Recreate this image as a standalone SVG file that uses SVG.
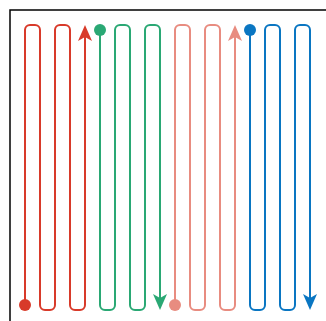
<svg xmlns="http://www.w3.org/2000/svg" width="326" height="321" viewBox="0 0 326 321">
<style>
.p{fill:none;stroke-width:2;stroke-linejoin:round}
</style>
<defs>
<marker id="dr" markerUnits="userSpaceOnUse" viewBox="-7 -7 14 14" markerWidth="14" markerHeight="14" refX="0" refY="0"><circle r="6" fill="#d83a2a"/></marker>
<marker id="ar" markerUnits="userSpaceOnUse" viewBox="0 0 16 14" markerWidth="16" markerHeight="14" refX="8" refY="7" orient="auto"><path d="M0,0 L16,7 L0,14 L4,7 Z" fill="#d83a2a"/></marker>
<marker id="dg" markerUnits="userSpaceOnUse" viewBox="-7 -7 14 14" markerWidth="14" markerHeight="14" refX="0" refY="0"><circle r="6" fill="#2aa874"/></marker>
<marker id="ag" markerUnits="userSpaceOnUse" viewBox="0 0 16 14" markerWidth="16" markerHeight="14" refX="8" refY="7" orient="auto"><path d="M0,0 L16,7 L0,14 L4,7 Z" fill="#2aa874"/></marker>
<marker id="dp" markerUnits="userSpaceOnUse" viewBox="-7 -7 14 14" markerWidth="14" markerHeight="14" refX="0" refY="0"><circle r="6" fill="#e88c80"/></marker>
<marker id="ap" markerUnits="userSpaceOnUse" viewBox="0 0 16 14" markerWidth="16" markerHeight="14" refX="8" refY="7" orient="auto"><path d="M0,0 L16,7 L0,14 L4,7 Z" fill="#e88c80"/></marker>
<marker id="db" markerUnits="userSpaceOnUse" viewBox="-7 -7 14 14" markerWidth="14" markerHeight="14" refX="0" refY="0"><circle r="6" fill="#0a76c2"/></marker>
<marker id="ab" markerUnits="userSpaceOnUse" viewBox="0 0 16 14" markerWidth="16" markerHeight="14" refX="8" refY="7" orient="auto"><path d="M0,0 L16,7 L0,14 L4,7 Z" fill="#0a76c2"/></marker>
</defs>
<rect x="10" y="10" width="330" height="330" fill="none" stroke="#000" stroke-width="1.5"/>
<g id="connectors">
<path id="red" class="p" stroke="#d83a2a" marker-start="url(#dr)" marker-end="url(#ar)" d="M25,305 V30 A5,5 0 0 1 30,25 H35 A5,5 0 0 1 40,30 V305 A5,5 0 0 0 45,310 H50 A5,5 0 0 0 55,305 V30 A5,5 0 0 1 60,25 H65 A5,5 0 0 1 70,30 V305 A5,5 0 0 0 75,310 H80 A5,5 0 0 0 85,305 V33"/>
<path id="green" class="p" stroke="#2aa874" marker-start="url(#dg)" marker-end="url(#ag)" d="M100,30 V305 A5,5 0 0 0 105,310 H110 A5,5 0 0 0 115,305 V30 A5,5 0 0 1 120,25 H125 A5,5 0 0 1 130,30 V305 A5,5 0 0 0 135,310 H140 A5,5 0 0 0 145,305 V30 A5,5 0 0 1 150,25 H155 A5,5 0 0 1 160,30 V302"/>
<path id="pink" class="p" stroke="#e88c80" marker-start="url(#dp)" marker-end="url(#ap)" d="M175,305 V30 A5,5 0 0 1 180,25 H185 A5,5 0 0 1 190,30 V305 A5,5 0 0 0 195,310 H200 A5,5 0 0 0 205,305 V30 A5,5 0 0 1 210,25 H215 A5,5 0 0 1 220,30 V305 A5,5 0 0 0 225,310 H230 A5,5 0 0 0 235,305 V33"/>
<path id="blue" class="p" stroke="#0a76c2" marker-start="url(#db)" marker-end="url(#ab)" d="M250,30 V305 A5,5 0 0 0 255,310 H260 A5,5 0 0 0 265,305 V30 A5,5 0 0 1 270,25 H275 A5,5 0 0 1 280,30 V305 A5,5 0 0 0 285,310 H290 A5,5 0 0 0 295,305 V30 A5,5 0 0 1 300,25 H305 A5,5 0 0 1 310,30 V302"/>
</g>
</svg>
